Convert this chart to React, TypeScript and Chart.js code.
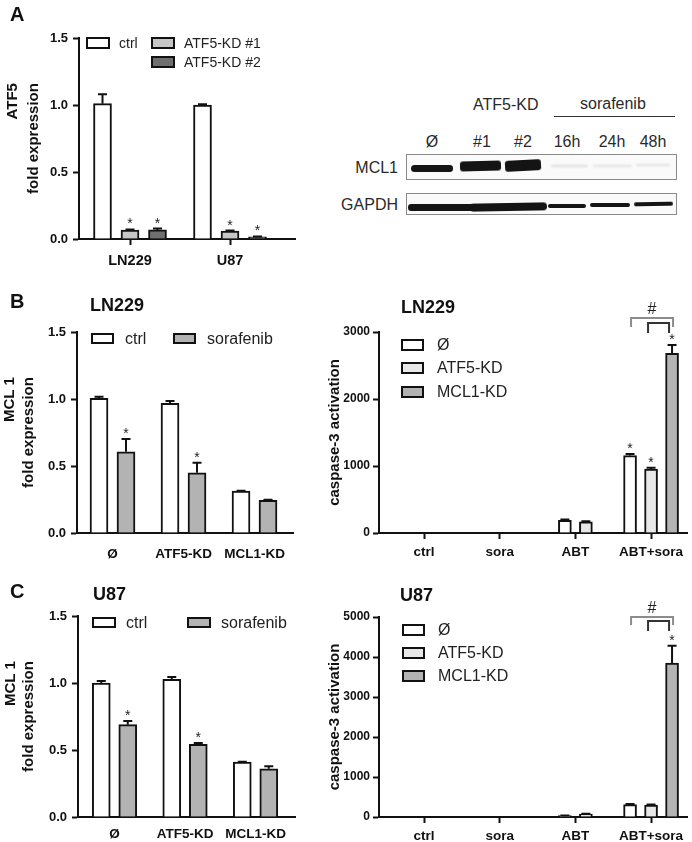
import React, { useEffect, useRef } from 'react';
import { Chart, registerables } from 'chart.js';

Chart.register(...registerables);

const FONT = "'Liberation Sans', Arial, Helvetica, sans-serif";

// ---------- Panel A: ATF5 fold expression ----------
const cellLinesA = ['LN229', 'U87'];
const ctrlA = [1.01, 1.0];
const ctrlAErr = [0.07, 0.006];
const kd1A = [0.067, 0.06];
const kd1AErr = [0.004, 0.003];
const kd2A = [0.068, 0.016];
const kd2AErr = [0.01, 0.003];
const kd1AStars = [true, true];
const kd2AStars = [true, true];

// ---------- Panel B left: LN229 MCL1 fold expression ----------
const knockdowns = ['Ø', 'ATF5-KD', 'MCL1-KD'];
const ctrlB = [1.005, 0.968, 0.312];
const ctrlBErr = [0.012, 0.017, 0.004];
const soraB = [0.606, 0.449, 0.244];
const soraBErr = [0.095, 0.075, 0.004];
const soraBStars = [true, true, false];

// ---------- Panel C left: U87 MCL1 fold expression ----------
const ctrlC = [1.0, 1.027, 0.41];
const ctrlCErr = [0.015, 0.018, 0.002];
const soraC = [0.689, 0.542, 0.36];
const soraCErr = [0.027, 0.01, 0.018];
const soraCStars = [true, true, false];

// ---------- Caspase-3 activation (B right: LN229, C right: U87) ----------
const treatments = ['ctrl', 'sora', 'ABT', 'ABT+sora'];
const noneCaspB = [null, null, 190, 1155];
const noneCaspBErr = [null, null, 12, 25];
const atf5CaspB = [null, null, 165, 955];
const atf5CaspBErr = [null, null, 10, 20];
const mcl1CaspB = [null, null, null, 2680];
const mcl1CaspBErr = [null, null, null, 125];
const noneCaspBStars = [false, false, false, true];
const atf5CaspBStars = [false, false, false, true];
const mcl1CaspBStars = [false, false, false, true];

const noneCaspC = [null, null, 33, 308];
const noneCaspCErr = [null, null, 5, 15];
const atf5CaspC = [null, null, 75, 300];
const atf5CaspCErr = [null, null, 5, 12];
const mcl1CaspC = [null, null, null, 3850];
const mcl1CaspCErr = [null, null, null, 430];
const noneCaspCStars = [false, false, false, false];
const atf5CaspCStars = [false, false, false, false];
const mcl1CaspCStars = [false, false, false, true];

// significance brackets: category, dataset from/to, height (value units)
const bracketsB = [
  { cat: 3, from: 0, to: 2, y: 3210 },
  { cat: 3, from: 1, to: 2, y: 3134 },
];
const bracketsC = [
  { cat: 3, from: 0, to: 2, y: 5000 },
  { cat: 3, from: 1, to: 2, y: 4900 },
];

const WHITE = '#ffffff';
const KD1_GRAY = '#c6c6c6';
const KD2_GRAY = '#6f6f6f';
const SORA_GRAY = '#b3b3b3';
const LIGHT_GRAY = '#e8e8e8';

type Series = {
  label: string;
  values: (number | null)[];
  errors: (number | null)[];
  stars?: boolean[];
  fill: string;
};

function buildDatasets(series: Series[], gap: number, barWidth: number) {
  const nCat = series[0].values.length;
  const ds = series.map((s) => ({
    label: s.label,
    data: [] as any[],
    backgroundColor: s.fill,
    borderColor: '#111111',
    borderWidth: 2,
    barThickness: barWidth,
    grouped: false,
  }));
  for (let c = 0; c < nCat; c++) {
    const present = series
      .map((s, i) => (s.values[c] == null ? -1 : i))
      .filter((i) => i >= 0);
    present.forEach((si, k) => {
      const s = series[si];
      ds[si].data.push({
        x: c + (k - (present.length - 1) / 2) * gap,
        y: s.values[c],
        e: s.errors[c] ?? 0,
        star: !!(s.stars && s.stars[c]),
        c,
      });
    });
  }
  return ds;
}

const errorBarPlugin = {
  id: 'errorBars',
  afterDatasetsDraw(chart: any) {
    const { ctx } = chart;
    const yScale = chart.scales.y;
    chart.data.datasets.forEach((ds: any, di: number) => {
      const meta = chart.getDatasetMeta(di);
      meta.data.forEach((bar: any, i: number) => {
        const raw = ds.data[i];
        const top = yScale.getPixelForValue(raw.y);
        const errTop = yScale.getPixelForValue(raw.y + raw.e);
        ctx.save();
        if (raw.e > 0) {
          ctx.strokeStyle = '#111';
          ctx.lineWidth = 2;
          ctx.beginPath();
          ctx.moveTo(bar.x, top);
          ctx.lineTo(bar.x, errTop);
          ctx.moveTo(bar.x - 4.5, errTop);
          ctx.lineTo(bar.x + 4.5, errTop);
          ctx.stroke();
        }
        if (raw.star) {
          ctx.fillStyle = '#222';
          ctx.font = `14px ${FONT}`;
          ctx.textAlign = 'center';
          ctx.textBaseline = 'alphabetic';
          ctx.fillText('*', bar.x, errTop - 1);
        }
        ctx.restore();
      });
    });
  },
};

const legendPlugin = {
  id: 'boxLegend',
  afterDraw(chart: any, _a: any, opts: any) {
    const { ctx, chartArea } = chart;
    opts.items.forEach((pos: number[], i: number) => {
      const ds = chart.data.datasets[i];
      const x = chartArea.left + pos[0];
      const y = chartArea.top + pos[1];
      ctx.save();
      ctx.fillStyle = ds.backgroundColor;
      ctx.fillRect(x, y, opts.boxW, opts.boxH);
      ctx.strokeStyle = '#111';
      ctx.lineWidth = 2;
      ctx.strokeRect(x, y, opts.boxW, opts.boxH);
      ctx.fillStyle = '#222';
      ctx.font = `${opts.size}px ${FONT}`;
      ctx.textAlign = 'left';
      ctx.textBaseline = 'middle';
      ctx.fillText(ds.label, x + opts.boxW + opts.gap, y + opts.boxH / 2 + 1);
      ctx.restore();
    });
  },
};

const yTitlePlugin = {
  id: 'yTitles',
  afterDraw(chart: any, _a: any, opts: any) {
    const { ctx, chartArea } = chart;
    ctx.save();
    ctx.font = `bold ${opts.size}px ${FONT}`;
    const widths = opts.lines.map((l: any) => ctx.measureText(l.text).width);
    const maxW = Math.max(...widths);
    const topY = (chartArea.top + chartArea.bottom) / 2 - maxW / 2;
    ctx.fillStyle = '#111';
    opts.lines.forEach((l: any) => {
      ctx.save();
      ctx.translate(l.x, topY);
      ctx.rotate(-Math.PI / 2);
      ctx.textAlign = 'right';
      ctx.textBaseline = 'middle';
      ctx.fillText(l.text, 0, 0);
      ctx.restore();
    });
    ctx.restore();
  },
};

const bracketPlugin = {
  id: 'brackets',
  afterDraw(chart: any, _a: any, opts: any) {
    if (!opts || !opts.items || !opts.items.length) return;
    const { ctx } = chart;
    const yScale = chart.scales.y;
    const findBar = (di: number, cat: number) => {
      const ds = chart.data.datasets[di];
      const idx = ds.data.findIndex((d: any) => d.c === cat);
      return chart.getDatasetMeta(di).data[idx];
    };
    opts.items.forEach((b: any, k: number) => {
      const st = opts.styles[k];
      const x0 = findBar(b.from, b.cat).x + st.dx;
      const x1 = findBar(b.to, b.cat).x + st.dx;
      const y = yScale.getPixelForValue(b.y);
      ctx.save();
      ctx.strokeStyle = st.color;
      ctx.lineWidth = 2;
      ctx.beginPath();
      ctx.moveTo(x0, y + st.leg);
      ctx.lineTo(x0, y);
      ctx.lineTo(x1, y);
      ctx.lineTo(x1, y + st.leg);
      ctx.stroke();
      if (k === 0) {
        ctx.fillStyle = '#222';
        ctx.font = `16px ${FONT}`;
        ctx.textAlign = 'center';
        ctx.textBaseline = 'alphabetic';
        ctx.fillText(opts.label, (x0 + x1) / 2, y - 4);
      }
      ctx.restore();
    });
  },
};

type Panel = {
  left: number;
  top: number;
  w: number;
  h: number;
  area: { left: number; top: number; right: number; bottom: number };
  xMin: number;
  xMax: number;
  categories: string[];
  series: Series[];
  gap: number;
  barWidth: number;
  yMax: number;
  yStep: number;
  yFmt: (v: number) => string;
  xTickMarks: boolean;
  xLabelPad: number;
  xLabelSize: number;
  yLabelPad: number;
  yLabelSize: number;
  yTitle: { text: string; x: number }[];
  legend: { items: number[][]; boxW: number; boxH: number; gap: number; size: number };
  brackets?: any;
};

function makeConfig(p: Panel): any {
  const datasets = buildDatasets(p.series, p.gap, p.barWidth);
  return {
    type: 'bar',
    data: { datasets },
    options: {
      responsive: false,
      animation: false,
      devicePixelRatio: 1,
      layout: { padding: { left: 0, top: p.area.top, right: p.w - p.area.right, bottom: 0 } },
      plugins: {
        legend: { display: false },
        tooltip: { enabled: false },
        boxLegend: p.legend,
        yTitles: { lines: p.yTitle, size: 15 },
        brackets: p.brackets || { items: [] },
      },
      scales: {
        x: {
          type: 'linear',
          min: p.xMin,
          max: p.xMax,
          offset: false,
          afterFit: (s: any) => {
            s.height = p.h - p.area.bottom;
          },
          afterBuildTicks: (s: any) => {
            s.ticks = p.categories.map((_c, i) => ({ value: i }));
          },
          ticks: {
            autoSkip: false,
            maxRotation: 0,
            minRotation: 0,
            padding: p.xLabelPad,
            color: '#111',
            font: { family: FONT, size: p.xLabelSize, weight: 'bold' },
            callback: (v: number) => p.categories[Math.round(v)] ?? '',
          },
          grid: {
            display: true,
            offset: false,
            drawOnChartArea: false,
            drawTicks: true,
            tickLength: 6,
            tickWidth: 2,
            tickColor: p.xTickMarks ? '#111' : 'rgba(0,0,0,0)',
            color: 'rgba(0,0,0,0)',
          },
          border: { display: true, color: '#111', width: 2 },
        },
        y: {
          type: 'linear',
          min: 0,
          max: p.yMax,
          afterFit: (s: any) => {
            s.width = p.area.left;
          },
          ticks: {
            stepSize: p.yStep,
            padding: p.yLabelPad,
            color: '#111',
            font: { family: FONT, size: p.yLabelSize, weight: 'bold' },
            callback: (v: number) => p.yFmt(v),
          },
          grid: {
            display: true,
            drawOnChartArea: false,
            drawTicks: true,
            tickLength: 6,
            tickWidth: 2,
            tickColor: '#111',
            color: 'rgba(0,0,0,0)',
          },
          border: { display: true, color: '#111', width: 2 },
        },
      },
    },
    plugins: [errorBarPlugin, legendPlugin, yTitlePlugin, bracketPlugin],
  };
}

const fmt1 = (v: number) => v.toFixed(1);
const fmt0 = (v: number) => String(Math.round(v));

const bracketStyles = (legOuter: number, legInner: number) => [
  { color: '#8c8c8c', leg: legOuter, dx: 1 },
  { color: '#333333', leg: legInner, dx: -3 },
];

const panels: Panel[] = [
  {
    left: 0, top: 20, w: 300, h: 255,
    area: { left: 79, top: 18, right: 295, bottom: 219 },
    xMin: -0.51, xMax: 1.65, categories: cellLinesA,
    series: [
      { label: 'ctrl', values: ctrlA, errors: ctrlAErr, fill: WHITE },
      { label: 'ATF5-KD #1', values: kd1A, errors: kd1AErr, stars: kd1AStars, fill: KD1_GRAY },
      { label: 'ATF5-KD #2', values: kd2A, errors: kd2AErr, stars: kd2AStars, fill: KD2_GRAY },
    ],
    gap: 0.275, barWidth: 18,
    yMax: 1.5, yStep: 0.5, yFmt: fmt1,
    xTickMarks: true, xLabelPad: 7, xLabelSize: 14.5, yLabelPad: 5, yLabelSize: 13,
    yTitle: [{ text: 'ATF5', x: 13 }, { text: 'fold expression', x: 34 }],
    legend: { items: [[8, 0], [73, 0], [73, 19]], boxW: 22, boxH: 10, gap: 10, size: 14 },
  },
  {
    left: 0, top: 310, w: 310, h: 265,
    area: { left: 77, top: 22, right: 293, bottom: 223 },
    xMin: -0.5, xMax: 2.542, categories: knockdowns,
    series: [
      { label: 'ctrl', values: ctrlB, errors: ctrlBErr, fill: WHITE },
      { label: 'sorafenib', values: soraB, errors: soraBErr, stars: soraBStars, fill: SORA_GRAY },
    ],
    gap: 0.38, barWidth: 18,
    yMax: 1.5, yStep: 0.5, yFmt: fmt1,
    xTickMarks: false, xLabelPad: 7, xLabelSize: 13.5, yLabelPad: 5, yLabelSize: 13,
    yTitle: [{ text: 'MCL 1', x: 10 }, { text: 'fold expression', x: 29 }],
    legend: { items: [[15, 2], [97, 2]], boxW: 21, boxH: 9, gap: 12, size: 16 },
  },
  {
    left: 320, top: 290, w: 372, h: 285,
    area: { left: 59, top: 42, right: 367, bottom: 243 },
    xMin: -0.595, xMax: 3.475, categories: treatments,
    series: [
      { label: 'Ø', values: noneCaspB, errors: noneCaspBErr, stars: noneCaspBStars, fill: WHITE },
      { label: 'ATF5-KD', values: atf5CaspB, errors: atf5CaspBErr, stars: atf5CaspBStars, fill: LIGHT_GRAY },
      { label: 'MCL1-KD', values: mcl1CaspB, errors: mcl1CaspBErr, stars: mcl1CaspBStars, fill: SORA_GRAY },
    ],
    gap: 0.2775, barWidth: 13,
    yMax: 3000, yStep: 1000, yFmt: fmt0,
    xTickMarks: true, xLabelPad: 5, xLabelSize: 13.5, yLabelPad: 3, yLabelSize: 12,
    yTitle: [{ text: 'caspase-3 activation', x: 15 }],
    legend: { items: [[23, 8], [23, 31], [23, 55]], boxW: 21, boxH: 10, gap: 14, size: 16 },
    brackets: { items: bracketsB, styles: bracketStyles(9, 10), label: '#' },
  },
  {
    left: 0, top: 595, w: 310, h: 247,
    area: { left: 78, top: 21, right: 295, bottom: 222 },
    xMin: -0.518, xMax: 2.56, categories: knockdowns,
    series: [
      { label: 'ctrl', values: ctrlC, errors: ctrlCErr, fill: WHITE },
      { label: 'sorafenib', values: soraC, errors: soraCErr, stars: soraCStars, fill: SORA_GRAY },
    ],
    gap: 0.376, barWidth: 18,
    yMax: 1.5, yStep: 0.5, yFmt: fmt1,
    xTickMarks: false, xLabelPad: 3, xLabelSize: 13.5, yLabelPad: 5, yLabelSize: 13,
    yTitle: [{ text: 'MCL 1', x: 11 }, { text: 'fold expression', x: 29 }],
    legend: { items: [[15, 2], [110, 2]], boxW: 22, boxH: 9, gap: 11, size: 16 },
  },
  {
    left: 320, top: 580, w: 372, h: 262,
    area: { left: 59, top: 37, right: 367, bottom: 237 },
    xMin: -0.595, xMax: 3.475, categories: treatments,
    series: [
      { label: 'Ø', values: noneCaspC, errors: noneCaspCErr, stars: noneCaspCStars, fill: WHITE },
      { label: 'ATF5-KD', values: atf5CaspC, errors: atf5CaspCErr, stars: atf5CaspCStars, fill: LIGHT_GRAY },
      { label: 'MCL1-KD', values: mcl1CaspC, errors: mcl1CaspCErr, stars: mcl1CaspCStars, fill: SORA_GRAY },
    ],
    gap: 0.2775, barWidth: 13,
    yMax: 5000, yStep: 1000, yFmt: fmt0,
    xTickMarks: true, xLabelPad: 5, xLabelSize: 13.5, yLabelPad: 3, yLabelSize: 12,
    yTitle: [{ text: 'caspase-3 activation', x: 15 }],
    legend: { items: [[24, 8], [24, 31], [24, 54]], boxW: 21, boxH: 10, gap: 14, size: 16 },
    brackets: { items: bracketsC, styles: bracketStyles(8, 10), label: '#' },
  },
];

function ChartCanvas({ p }: { p: Panel }) {
  const ref = useRef<HTMLCanvasElement>(null);
  useEffect(() => {
    const chart = new Chart(ref.current as HTMLCanvasElement, makeConfig(p));
    return () => chart.destroy();
  }, [p]);
  return (
    <canvas
      ref={ref}
      width={p.w}
      height={p.h}
      style={{ position: 'absolute', left: p.left, top: p.top, width: p.w, height: p.h }}
    />
  );
}

// text positioned by cap top (left aligned)
function Label({ x, capTop, size, bold, children }: any) {
  return (
    <div
      style={{
        position: 'absolute',
        left: x,
        top: capTop - 0.13 * size,
        fontSize: size,
        lineHeight: `${size}px`,
        fontWeight: bold ? 700 : 400,
        fontFamily: FONT,
        color: '#111',
        whiteSpace: 'nowrap',
      }}
    >
      {children}
    </div>
  );
}

// blot text positioned by vertical center of caps
function BlotText({ x, cy, align, children }: any) {
  const size = 16;
  const style: any = {
    position: 'absolute',
    top: cy - 0.49 * size,
    fontSize: size,
    lineHeight: `${size}px`,
    fontFamily: FONT,
    color: '#2a2a2a',
    whiteSpace: 'nowrap',
  };
  if (align === 'center') {
    style.left = x - 30;
    style.width = 60;
    style.textAlign = 'center';
  } else if (align === 'right') {
    style.right = 692 - x;
    style.textAlign = 'right';
  } else {
    style.left = x;
  }
  return <div style={style}>{children}</div>;
}

const laneLabels = ['Ø', '#1', '#2', '16h', '24h', '48h'];
const laneCenters = [432, 482, 523, 567, 612, 653];

function Band({ l, t, w, h, c, rot, blur, r }: any) {
  return (
    <div
      style={{
        position: 'absolute',
        left: l,
        top: t,
        width: w,
        height: h,
        background: c || '#141414',
        borderRadius: r ?? h / 2,
        transform: rot ? `rotate(${rot}deg)` : undefined,
        filter: `blur(${blur ?? 0.7}px)`,
      }}
    />
  );
}

function Blot() {
  return (
    <>
      <BlotText x={473} cy={105}>ATF5-KD</BlotText>
      <BlotText x={580} cy={104}>sorafenib</BlotText>
      <div style={{ position: 'absolute', left: 554, top: 116, width: 121, height: 1, background: '#333' }} />
      {laneLabels.map((t, i) => (
        <BlotText key={t} x={laneCenters[i]} cy={142} align="center">
          {t}
        </BlotText>
      ))}
      <BlotText x={398} cy={168} align="right">MCL1</BlotText>
      <BlotText x={398} cy={205} align="right">GAPDH</BlotText>
      <div
        style={{
          position: 'absolute', left: 406, top: 154, width: 269, height: 24,
          border: '1px solid #8a8a8a', background: '#fafafa', overflow: 'hidden',
        }}
      />
      <div
        style={{
          position: 'absolute', left: 406, top: 193, width: 269, height: 20,
          border: '1px solid #8a8a8a', background: '#fafafa', overflow: 'hidden',
        }}
      />
      {/* MCL1 bands */}
      <Band l={411} t={164.5} w={22} h={7} />
      <Band l={428} t={165} w={25} h={6.5} />
      <Band l={460} t={161} w={41} h={10} r={3} rot={-1.5} />
      <Band l={505} t={159.5} w={36} h={10.5} r={3} rot={-3} />
      <Band l={551} t={165} w={37} h={2} c="#dcdcdc" blur={1} />
      <Band l={593} t={165} w={39} h={2} c="#e0e0e0" blur={1} />
      <Band l={636} t={164} w={34} h={2} c="#e0e0e0" blur={1} />
      {/* GAPDH bands */}
      <Band l={408} t={204} w={70} h={6.5} />
      <Band l={470} t={202.5} w={77} h={7.5} rot={-1} />
      <Band l={548} t={204} w={38} h={4} />
      <Band l={590} t={203} w={40} h={4} />
      <Band l={634} t={202} w={39} h={4} rot={-1} />
    </>
  );
}

export default function App() {
  return (
    <div
      style={{
        position: 'absolute', left: 0, top: 0, width: 692, height: 842,
        background: '#ffffff', overflow: 'hidden', fontFamily: FONT,
      }}
    >
      {panels.map((p, i) => (
        <ChartCanvas key={i} p={p} />
      ))}
      <Label x={10} capTop={7} size={20} bold>A</Label>
      <Label x={10} capTop={294} size={20} bold>B</Label>
      <Label x={10} capTop={584} size={20} bold>C</Label>
      <Label x={90} capTop={298} size={18} bold>LN229</Label>
      <Label x={401} capTop={300} size={18} bold>LN229</Label>
      <Label x={93} capTop={587} size={18} bold>U87</Label>
      <Label x={400} capTop={588} size={18} bold>U87</Label>
      <Blot />
    </div>
  );
}
